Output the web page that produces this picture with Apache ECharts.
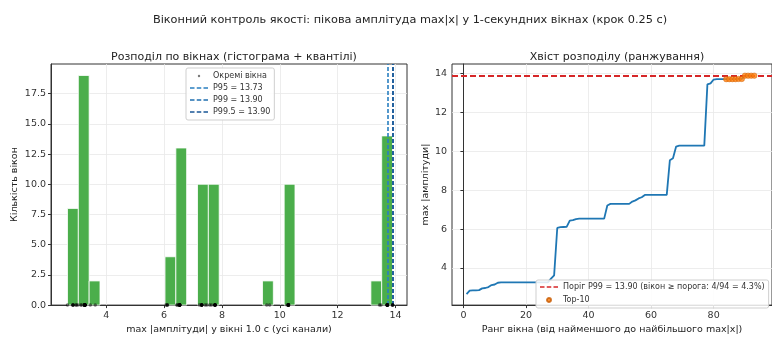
<!DOCTYPE html>
<html><head><meta charset="utf-8">
<script src="https://cdn.jsdelivr.net/npm/echarts@6/dist/echarts.min.js"></script>
<style>html,body{margin:0;padding:0;background:#fff}#c{width:772px;height:340px}</style>
</head><body><div id="c"></div>
<script>
// Sorted window peak amplitudes (rank 1..94)
const sortedValues = [
  2.66, 2.84, 2.85, 2.85, 2.86, 2.95, 2.97, 3.02,
  3.12, 3.15, 3.24, 3.26, 3.26, 3.26, 3.26, 3.26, 3.26, 3.26, 3.26, 3.26, 3.26, 3.26, 3.26, 3.26, 3.26, 3.26, 3.26,
  3.45, 3.62,
  6.06, 6.10, 6.11, 6.12,
  6.44, 6.46, 6.52, 6.54, 6.54, 6.54, 6.54, 6.54, 6.54, 6.54, 6.54, 6.54,
  7.22, 7.30, 7.30, 7.30, 7.30, 7.30, 7.30, 7.30, 7.42, 7.48,
  7.58, 7.64, 7.76, 7.76, 7.76, 7.76, 7.76, 7.76, 7.76, 7.76,
  9.55, 9.65,
  10.25, 10.30, 10.30, 10.30, 10.30, 10.30, 10.30, 10.30, 10.30, 10.30,
  13.45, 13.50,
  13.70, 13.72, 13.72, 13.72, 13.72, 13.72, 13.72, 13.72, 13.73, 13.73, 13.90, 13.90, 13.90, 13.90
];
// Histogram (non-empty bins)
const binLeft  = [2.660, 3.035, 3.409, 6.032, 6.407, 7.156, 7.531, 9.404, 10.153, 13.151, 13.525];
const binRight = [3.035, 3.409, 3.784, 6.407, 6.781, 7.531, 7.906, 9.778, 10.527, 13.525, 13.900];
const binCount = [8, 19, 2, 4, 13, 10, 10, 2, 10, 2, 14];
const quantileNames  = ['P95 = 13.73', 'P99 = 13.90', 'P99.5 = 13.90'];
const quantileValues = [13.73, 13.90, 13.90];
const thresholdValue = 13.90;
const thresholdName = 'Поріг P99 = 13.90 (вікон ≥ порога: 4/94 = 4.3%)';
const topN = 10;
const leftXTicks  = [4, 6, 8, 10, 12, 14];
const leftYTicks  = [0, 2.5, 5, 7.5, 10, 12.5, 15, 17.5];
const rightXTicks = [0, 20, 40, 60, 80, 100];
const rightYTicks = [4, 6, 8, 10, 12, 14];

const FONT = 'DejaVu Sans';
const chart = echarts.init(document.getElementById('c'), null, {renderer: 'canvas'});
const quantColors = ['#2a7fc0', '#1f6fb0', '#1a5796'];
const DASH_ICON = 'path://M0,0h6v2h-6z M9,0h6v2h-6z M18,0h6v2h-6z';

const histData = binLeft.map((l, i) => [l, binRight[i], binCount[i]]);
const rankData = sortedValues.map((v, i) => [i + 1, v]);
const topData = rankData.slice(rankData.length - topN);
const dotData = sortedValues.map(v => [v, 0]);

function axisCommon(ticks) {
  return {
    axisLine: {show: true, lineStyle: {color: '#333', width: 1}},
    axisTick: {show: true, length: 3, lineStyle: {color: '#333'}, customValues: ticks},
    axisLabel: {color: '#333', fontFamily: FONT, fontSize: 9.5, customValues: ticks, margin: 5},
    splitLine: {show: true, lineStyle: {color: '#e8e8e8', width: 0.8}},
    nameTextStyle: {color: '#222', fontFamily: FONT, fontSize: 9.5}
  };
}

const series = [
  {
    name: 'hist', type: 'custom', xAxisIndex: 0, yAxisIndex: 0,
    data: histData, encode: {x: [0, 1], y: 2}, z: 2,
    renderItem: function (params, api) {
      const p0 = api.coord([api.value(0), 0]);
      const p1 = api.coord([api.value(1), api.value(2)]);
      return {type: 'rect', shape: {x: p0[0], y: p1[1], width: p1[0] - p0[0], height: p0[1] - p1[1]},
        style: {fill: '#4bae4b', stroke: '#ffffff', lineWidth: 0.8}};
    }
  },
  {
    name: 'Окремі вікна', type: 'scatter', xAxisIndex: 0, yAxisIndex: 0, data: dotData,
    symbolSize: 3.5, itemStyle: {color: 'rgba(0,0,0,0.65)'}, clip: false, z: 5
  }
];
quantileNames.forEach((n, i) => {
  series.push({
    name: n, type: 'line', xAxisIndex: 0, yAxisIndex: 0, data: [], symbol: 'none',
    lineStyle: {color: quantColors[i], type: [4, 2], width: 1.6}, itemStyle: {color: quantColors[i]},
    markLine: {silent: true, symbol: 'none', label: {show: false}, animation: false,
      lineStyle: {color: quantColors[i], type: [4, 2], width: 1.6}, data: [{xAxis: quantileValues[i]}]}
  });
});
series.push({
  name: 'rank', type: 'line', xAxisIndex: 1, yAxisIndex: 1, data: rankData, symbol: 'none',
  lineStyle: {color: '#1f77b4', width: 1.8}, z: 3
});
series.push({
  name: thresholdName, type: 'line', xAxisIndex: 1, yAxisIndex: 1, data: [], symbol: 'none',
  lineStyle: {color: '#d62728', type: [6, 3], width: 1.8}, itemStyle: {color: '#d62728'},
  markLine: {silent: true, symbol: 'none', label: {show: false}, animation: false,
    lineStyle: {color: '#d62728', type: [6, 3], width: 1.8}, data: [{yAxis: thresholdValue}]}
});
series.push({
  name: 'Top-10', type: 'scatter', xAxisIndex: 1, yAxisIndex: 1, data: topData,
  symbolSize: 5.5, itemStyle: {color: '#ff7f0e', borderColor: '#c85a00', borderWidth: 0.5}, z: 6
});

const option = {
  animation: false,
  backgroundColor: '#fff',
  title: [
    {text: 'Віконний контроль якості: пікова амплітуда max|x| у 1-секундних вікнах (крок 0.25 с)',
      left: 405, top: 10, textAlign: 'center',
      textStyle: {fontFamily: FONT, fontSize: 11.3, fontWeight: 'normal', color: '#222'}},
    {text: 'Розподіл по вікнах (гістограма + квантілі)', left: 229, top: 47, textAlign: 'center',
      textStyle: {fontFamily: FONT, fontSize: 11, fontWeight: 'normal', color: '#222'}},
    {text: 'Хвіст розподілу (ранжування)', left: 612, top: 47, textAlign: 'center',
      textStyle: {fontFamily: FONT, fontSize: 11, fontWeight: 'normal', color: '#222'}}
  ],
  grid: [
    {left: 51, right: 365, top: 64, bottom: 29, show: true, borderColor: '#333', borderWidth: 1, backgroundColor: 'transparent'},
    {left: 452, right: -6, top: 64, bottom: 29, show: true, borderColor: '#333', borderWidth: 1, backgroundColor: 'transparent'}
  ],
  xAxis: [
    Object.assign(axisCommon(leftXTicks), {type: 'value', gridIndex: 0, min: 2.09, max: 14.40,
      name: 'max |амплітуди| у вікні 1.0 с (усі канали)', nameLocation: 'middle', nameGap: 17}),
    Object.assign(axisCommon(rightXTicks), {type: 'value', gridIndex: 1, min: -3.65, max: 98.65,
      name: 'Ранг вікна (від найменшого до найбільшого max|x|)', nameLocation: 'middle', nameGap: 17})
  ],
  yAxis: [
    Object.assign(axisCommon(leftYTicks), {type: 'value', gridIndex: 0, min: 0, max: 19.95,
      name: 'Кількість вікон', nameLocation: 'middle', nameGap: 31,
      axisLabel: {color: '#333', fontFamily: FONT, fontSize: 9.5, customValues: leftYTicks, margin: 5,
        formatter: v => v.toFixed(1)}}),
    Object.assign(axisCommon(rightYTicks), {type: 'value', gridIndex: 1, min: 2.09, max: 14.50,
      name: 'max |амплітуди|', nameLocation: 'middle', nameGap: 18})
  ],
  legend: [
    {orient: 'vertical', left: 186, top: 68, itemGap: 4, itemWidth: 18, itemHeight: 8,
      data: [{name: 'Окремі вікна', icon: 'path://M0,0M20,20M10,7a3,3 0 1,0 0.01,0z'}]
        .concat(quantileNames.map(n => ({name: n, icon: DASH_ICON}))),
      textStyle: {fontFamily: FONT, fontSize: 8, color: '#333'},
      backgroundColor: 'rgba(255,255,255,0.85)', borderColor: '#cfcfcf', borderWidth: 1, borderRadius: 2, padding: [4, 4]},
    {orient: 'vertical', left: 536, top: 280, itemGap: 4, itemWidth: 18, itemHeight: 8,
      data: [{name: thresholdName, icon: DASH_ICON}, {name: 'Top-10', icon: 'path://M0,0M20,20M10,5a5,5 0 1,0 0.01,0z'}],
      textStyle: {fontFamily: FONT, fontSize: 8, color: '#333'},
      backgroundColor: 'rgba(255,255,255,0.85)', borderColor: '#cfcfcf', borderWidth: 1, borderRadius: 2, padding: [3, 4]}
  ],
  series: series
};
chart.setOption(option);
</script></body></html>
